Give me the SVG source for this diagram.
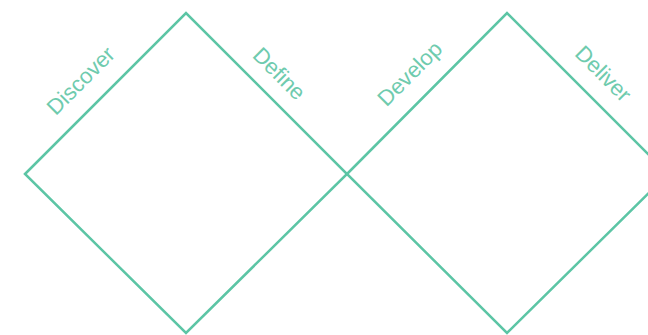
<svg xmlns="http://www.w3.org/2000/svg" width="648" height="335" viewBox="0 0 648 335">
<style>
.d{fill:none;stroke:#5CC5A5;stroke-width:2.5;stroke-linejoin:miter}
.t{font-family:"Liberation Sans",Arial,sans-serif;font-size:22px;fill:#6FCBAE;text-anchor:middle}
</style>
<rect width="648" height="335" fill="#fff"/>
<g id="connectors"></g>
<g id="diamond-left"><polygon class="d" points="25,174 186,13 347,174 186,333"/></g>
<g id="diamond-right"><polygon class="d" points="347,174 507,13 668,174 507,333"/></g>
<g id="label-discover"><text class="t" transform="translate(86,86) rotate(-45)">Discover</text></g>
<g id="label-define"><text class="t" transform="translate(274,79) rotate(45)">Define</text></g>
<g id="label-develop"><text class="t" transform="translate(415,79) rotate(-45)">Develop</text></g>
<g id="label-deliver"><text class="t" transform="translate(598,79) rotate(45)">Deliver</text></g>
</svg>
